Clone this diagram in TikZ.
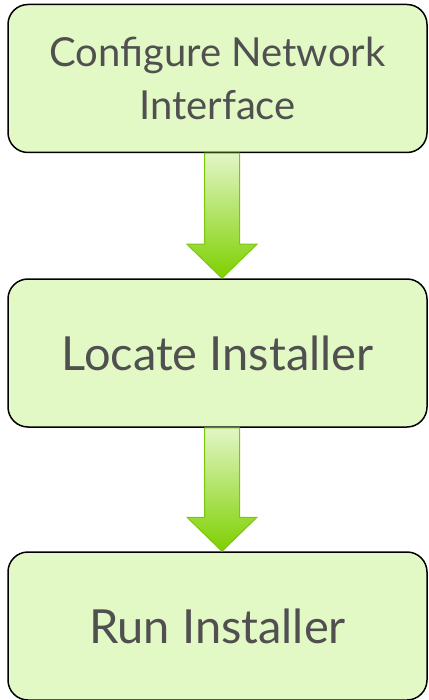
\documentclass[tikz,border=0pt]{standalone}
\usepackage{fontspec}
\setmainfont{Lato}
\usetikzlibrary{calc}
\definecolor{boxfill}{HTML}{E3F9C5}
\definecolor{txt}{HTML}{505050}
\definecolor{arrowtop}{HTML}{E2F6C6}
\definecolor{arrowbot}{HTML}{7ED000}
\definecolor{arrowline}{HTML}{7CC70E}
\newcommand\blockarrow[2]{%
  \shade[arrowstyle]
    ($(#1.south)+(-13,0)$) -- ($(#2.north)+(-13,-34)$) -- ($(#2.north)+(-30.5,-34)$)
    -- ($(#2.north)+(4.5,0)$) -- ($(#2.north)+(39.5,-34)$) -- ($(#2.north)+(22,-34)$)
    -- ($(#1.south)+(22,0)$) -- cycle;}
\begin{document}
\begin{tikzpicture}[x=1pt,y=-1pt,
  stepbox/.style={draw=black, line width=1.5pt, fill=boxfill, rounded corners=20pt,
    minimum width=419pt, minimum height=148pt, text=txt,
    font=\fontsize{47}{53}\selectfont, align=center, inner sep=0pt},
  arrowstyle/.style={draw=arrowline, line width=1pt, top color=arrowtop, bottom color=arrowbot}]
\useasboundingbox (0,0) rectangle (428,700);
\node[stepbox, font=\fontsize{40}{53}\selectfont] (a) at (217.5,78.5) {Configure Network\\Interface};
\node[stepbox] (b) at (217.5,353) {Locate Installer};
\node[stepbox] (c) at (217.5,626) {Run Installer};
\blockarrow{a}{b}
\blockarrow{b}{c}
\end{tikzpicture}
\end{document}
